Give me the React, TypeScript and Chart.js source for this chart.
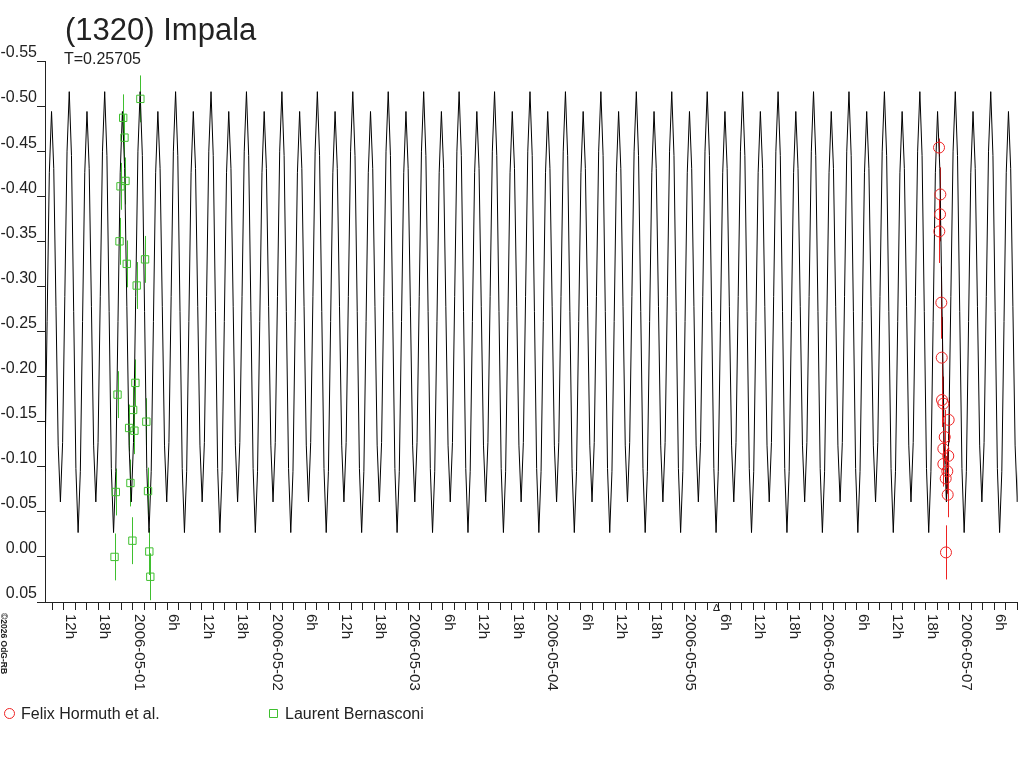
import React, { useEffect, useRef } from 'react';
import { Chart, registerables } from 'chart.js';

Chart.register(...registerables);

// ---------- text ----------
const chartTitle = '(1320) Impala';
const periodText = 'T=0.25705';
const copyrightText = '\u00A92026 OdG-RB';

// ---------- axes (x in hours from 2006-05-01 00:00) ----------
const xMinHours = -15.27;
const xMaxHours = 154.01;
const xTickStepHours = 2;
const dateLabels = ['2006-05-01', '2006-05-02', '2006-05-03', '2006-05-04', '2006-05-05', '2006-05-06', '2006-05-07'];
const hourLabels: Record<number, string> = { 6: '6h', 12: '12h', 18: '18h' };
const yMin = -0.55;
const yMax = 0.05;
const yStep = 0.05;
const markerHour = 101.45;

// ---------- model lightcurve ----------
const periodDays = 0.25705;
const periodHours = periodDays * 24;
const curveEpochHours = -12.59; // phase 0 (secondary minimum)
// one rotation period of the model (16 samples per period)
const curveProfile = [
  -0.061, -0.127, -0.289, -0.45, -0.516, -0.445, -0.272, -0.098,
  -0.027, -0.095, -0.261, -0.426, -0.494, -0.431, -0.278, -0.124,
];

// ---------- observations ----------
const hormuthLabel = 'Felix Hormuth et al.';
const hormuthHours = [140.35, 140.58, 140.53, 140.40, 140.75, 140.82, 140.87, 141.10, 142.03, 141.34, 141.10, 141.96, 141.10, 141.79, 141.51, 141.86, 141.56];
const hormuthMag = [-0.454, -0.402, -0.380, -0.361, -0.282, -0.221, -0.174, -0.170, -0.152, -0.133, -0.120, -0.112, -0.103, -0.095, -0.087, -0.069, -0.005];
const hormuthErr = [0.010, 0.030, 0.030, 0.035, 0.040, 0.045, 0.030, 0.030, 0.025, 0.030, 0.025, 0.025, 0.025, 0.025, 0.025, 0.025, 0.030];

const bernasconiLabel = 'Laurent Bernasconi';
const bernasconiHours = [1.33, -1.66, -1.435, -1.262, -2.127, -2.30, -1.037, 2.144, 0.692, 0.467, -2.646, 0.069, -0.622, 0.294, 2.369, -0.398, -2.94, 2.663, -0.052, -3.164, 2.888, 3.06];
const bernasconiMag = [-0.508, -0.487, -0.465, -0.417, -0.411, -0.350, -0.325, -0.330, -0.301, -0.193, -0.180, -0.163, -0.143, -0.140, -0.150, -0.082, -0.072, -0.073, -0.018, 0.000, -0.006, 0.022];
const bernasconiErr = [0.026, 0.026, 0.026, 0.026, 0.026, 0.026, 0.026, 0.026, 0.026, 0.026, 0.026, 0.026, 0.026, 0.026, 0.026, 0.026, 0.026, 0.026, 0.026, 0.026, 0.026, 0.026];

// ---------- style ----------
const FONT = '"Liberation Sans", Arial, Helvetica, sans-serif';
const TEXT = '#222222';
const AXIS = '#222222';
const CURVE = '#000000';
const RED = '#ee2222';
const GREEN = '#3fbf2f';

function buildCurve() {
  const pts: { x: number; y: number }[] = [];
  const n = curveProfile.length;
  for (let k = -2; ; k++) {
    for (let j = 0; j < n; j++) {
      const x = curveEpochHours + (k + j / n) * periodHours;
      pts.push({ x, y: curveProfile[j] });
    }
    if (curveEpochHours + (k + 1) * periodHours > xMaxHours + periodHours) break;
  }
  return pts;
}

const errorBars: Record<number, { errs: number[]; color: string }> = {
  0: { errs: hormuthErr, color: RED },
  1: { errs: bernasconiErr, color: GREEN },
};

const legendItems = [
  { label: hormuthLabel, color: RED, style: 'circle', x: 9.5 },
  { label: bernasconiLabel, color: GREEN, style: 'rect', x: 273.5 },
];

const decorPlugin = {
  id: 'decor',
  beforeDatasetsDraw(chart: any) {
    const { ctx, chartArea } = chart;
    const xs = chart.scales.x;
    const ys = chart.scales.y;
    ctx.save();
    ctx.beginPath();
    ctx.rect(chartArea.left, chartArea.top, chartArea.right - chartArea.left, chartArea.bottom - chartArea.top);
    ctx.clip();
    Object.keys(errorBars).forEach((k) => {
      const i = Number(k);
      const ds = chart.data.datasets[i];
      const { errs, color } = errorBars[i];
      ctx.strokeStyle = color;
      ctx.lineWidth = 1;
      ds.data.forEach((p: any, idx: number) => {
        const px = Math.round(xs.getPixelForValue(p.x)) + 0.5;
        const y1 = ys.getPixelForValue(p.y - errs[idx]);
        const y2 = ys.getPixelForValue(p.y + errs[idx]);
        ctx.beginPath();
        ctx.moveTo(px, y1);
        ctx.lineTo(px, y2);
        ctx.stroke();
      });
    });
    ctx.restore();
  },
  afterDraw(chart: any) {
    const { ctx } = chart;
    const xs = chart.scales.x;
    ctx.save();
    ctx.fillStyle = TEXT;

    // title
    ctx.textAlign = 'left';
    ctx.textBaseline = 'alphabetic';
    ctx.font = `31px ${FONT}`;
    ctx.fillText(chartTitle, 65, 40);
    ctx.font = `16px ${FONT}`;
    ctx.fillText(periodText, 64, 64);

    // x tick labels (rotated clockwise)
    ctx.font = `15px ${FONT}`;
    const labelTop = 614;
    xs.ticks.forEach((t: any) => {
      const v = Math.round(t.value);
      if (v % 6 !== 0) return;
      const h = ((v % 24) + 24) % 24;
      let label = '';
      if (h === 0) {
        label = dateLabels[v / 24] ?? '';
      } else {
        label = hourLabels[h];
      }
      if (!label) return;
      const px = xs.getPixelForValue(v);
      ctx.save();
      ctx.translate(Math.round(px) + 1.5, labelTop);
      ctx.rotate(Math.PI / 2);
      ctx.fillText(label, 0, 0);
      ctx.restore();
    });

    // small marker on the time axis
    const mx = Math.round(xs.getPixelForValue(markerHour)) + 0.5;
    const axisY = chart.chartArea.bottom;
    ctx.strokeStyle = AXIS;
    ctx.lineWidth = 1;
    ctx.beginPath();
    ctx.moveTo(mx, axisY + 2);
    ctx.lineTo(mx + 3, axisY + 8.5);
    ctx.lineTo(mx - 3, axisY + 8.5);
    ctx.closePath();
    ctx.stroke();

    // copyright
    ctx.font = `bold 8.5px ${FONT}`;
    ctx.save();
    ctx.translate(1, 613);
    ctx.rotate(Math.PI / 2);
    ctx.fillText(copyrightText, 0, 0);
    ctx.restore();

    // legend
    const legendY = 713;
    ctx.font = `16px ${FONT}`;
    legendItems.forEach(({ label, color, style, x }) => {
      ctx.strokeStyle = color;
      ctx.lineWidth = 1;
      ctx.beginPath();
      if (style === 'circle') {
        ctx.arc(x, legendY + 0.5, 5, 0, Math.PI * 2);
      } else {
        ctx.rect(x - 4, legendY - 3.5, 8, 8);
      }
      ctx.stroke();
      ctx.fillStyle = TEXT;
      ctx.fillText(label, x + 11.5, legendY + 5.5);
    });

    ctx.restore();
  },
};

export default function App() {
  const canvasRef = useRef<HTMLCanvasElement | null>(null);

  useEffect(() => {
    if (!canvasRef.current) return;
    Chart.defaults.font.family = FONT;
    Chart.defaults.color = TEXT;

    const chart = new Chart(canvasRef.current, {
      type: 'scatter',
      data: {
        datasets: [
          {
            label: hormuthLabel,
            data: hormuthHours.map((x, i) => ({ x, y: hormuthMag[i] })),
            pointStyle: 'circle',
            pointRadius: 5.5,
            borderColor: RED,
            pointBorderColor: RED,
            backgroundColor: 'rgba(0,0,0,0)',
            pointBackgroundColor: 'rgba(0,0,0,0)',
            borderWidth: 1,
            showLine: false,
            order: 0,
          },
          {
            label: bernasconiLabel,
            data: bernasconiHours.map((x, i) => ({ x, y: bernasconiMag[i] })),
            pointStyle: 'rect',
            pointRadius: 5.2,
            borderColor: GREEN,
            pointBorderColor: GREEN,
            backgroundColor: 'rgba(0,0,0,0)',
            pointBackgroundColor: 'rgba(0,0,0,0)',
            borderWidth: 1,
            showLine: false,
            order: 1,
          },
          {
            label: 'model',
            data: buildCurve(),
            showLine: true,
            pointRadius: 0,
            borderColor: CURVE,
            borderWidth: 1,
            tension: 0,
            order: 2,
          },
        ],
      } as any,
      options: {
        responsive: false,
        animation: false,
        devicePixelRatio: 1,
        events: [],
        layout: { padding: { top: 61, left: 0, right: 0, bottom: 0 } },
        plugins: {
          legend: { display: false },
          tooltip: { enabled: false },
          title: { display: false },
        },
        scales: {
          x: {
            type: 'linear',
            min: xMinHours,
            max: xMaxHours,
            afterFit: (s: any) => {
              s.height = 166;
            },
            ticks: { display: false, stepSize: xTickStepHours, includeBounds: false },
            grid: { drawOnChartArea: false, drawTicks: true, tickLength: 8, color: AXIS, lineWidth: 1 },
            border: { display: true, color: AXIS, width: 1 },
          },
          y: {
            type: 'linear',
            reverse: true,
            min: yMin,
            max: yMax,
            afterFit: (s: any) => {
              s.width = 45;
            },
            ticks: {
              stepSize: yStep,
              padding: 0,
              labelOffset: -8,
              color: TEXT,
              font: { size: 16, family: FONT },
              callback: (v: any) => {
                const n = Number(v);
                return Math.abs(n) < 1e-9 ? '0.00' : n.toFixed(2);
              },
            },
            grid: { drawOnChartArea: false, drawTicks: true, tickLength: 8, color: AXIS, lineWidth: 1 },
            border: { display: true, color: AXIS, width: 1 },
          },
        },
      } as any,
      plugins: [decorPlugin],
    });

    return () => chart.destroy();
  }, []);

  return (
    <div style={{ position: 'fixed', left: 0, top: 0, width: 1024, height: 768, background: '#ffffff' }}>
      <canvas ref={canvasRef} width={1024} height={768} style={{ display: 'block', width: 1024, height: 768 }} />
    </div>
  );
}
